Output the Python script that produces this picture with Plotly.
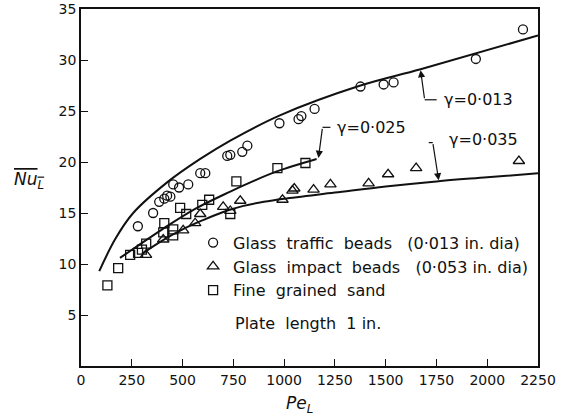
import plotly.graph_objects as go

# ---- data ----
traffic_pe = [280, 355, 385, 410, 424, 440, 454, 483, 528, 587, 612, 720, 735, 794, 819,
              977, 1071, 1085, 1150, 1376, 1490, 1539, 1944, 2176]
traffic_nu = [13.7, 15.0, 16.1, 16.4, 16.7, 16.6, 17.8, 17.5, 17.8, 18.9, 18.9, 20.6, 20.7,
              21.0, 21.6, 23.8, 24.2, 24.5, 25.2, 27.4, 27.6, 27.8, 30.1, 33.0]

impact_pe = [320, 405, 503, 562, 587, 700, 735, 784, 992, 1041, 1050, 1145, 1228, 1416,
             1512, 1650, 2156]
impact_nu = [10.9, 12.4, 13.3, 14.0, 14.9, 15.6, 15.2, 16.2, 16.3, 17.2, 17.4, 17.3, 17.8,
             17.9, 18.8, 19.4, 20.1]

sand_pe = [130, 183, 242, 281, 300, 321, 405, 410, 454, 454, 488, 518, 597, 631, 735, 765,
           967, 1105]
sand_nu = [7.9, 9.6, 10.9, 11.1, 11.4, 12.0, 13.1, 14.0, 13.4, 12.8, 15.5, 14.9, 15.8, 16.3,
           14.9, 18.1, 19.4, 19.9]

g013_pe = [90, 170, 257, 424, 587, 735, 982, 1376, 1672, 2250]
g013_nu = [9.3, 12.5, 15.0, 18.0, 20.3, 22.1, 24.6, 27.5, 29.1, 32.4]

g025_pe = [192, 281, 400, 562, 735, 834, 967, 1160]
g025_nu = [10.6, 11.8, 13.4, 15.4, 17.1, 18.0, 19.1, 20.3]

g035_pe = [300, 400, 500, 600, 700, 800, 900, 1000, 1250, 1500, 1750, 2000, 2250]
g035_nu = [11.0, 12.3, 13.4, 14.3, 15.1, 15.7, 16.1, 16.4, 17.0, 17.6, 18.1, 18.5, 18.9]

x_ticks = [0, 250, 500, 750, 1000, 1250, 1500, 1750, 2000, 2250]
y_ticks = [5, 10, 15, 20, 25, 30, 35]

legend_names = ["Glass  traffic  beads   (0·013 in. dia)",
                "Glass  impact  beads   (0·053 in. dia)",
                "Fine  grained  sand"]

# curve labels: text, text pos, arrow tip, elbow, leader end
curve_labels = [
    ("γ=0·013", (1775, 26.1), (1672, 29.0), (1692, 26.1), (1751, 26.1)),
    ("γ=0·025", (1250, 23.4), (1169, 20.4), (1189, 23.4), (1228, 23.4)),
    ("γ=0·035", (1800, 22.2), (1761, 18.2), (1732, 21.9), (1712, 21.9)),
]

FONT = "DejaVu Sans"
BLACK = "#111111"

fig = go.Figure()

for pe, nu in [(g013_pe, g013_nu), (g025_pe, g025_nu), (g035_pe, g035_nu)]:
    fig.add_trace(go.Scatter(x=pe, y=nu, mode="lines", showlegend=False,
                             line=dict(color=BLACK, width=2, shape="spline", smoothing=1.0),
                             hoverinfo="skip"))

for pe, nu, name, sym, size, grp in [
        (traffic_pe, traffic_nu, legend_names[0], "circle-open", 9, "a"),
        (impact_pe, impact_nu, legend_names[1], "triangle-up-open", 10, "b"),
        (sand_pe, sand_nu, legend_names[2], "square-open", 9, "c")]:
    fig.add_trace(go.Scatter(x=pe, y=nu, mode="markers", name=name, legendgroup=grp,
                             marker=dict(symbol=sym, size=size, color=BLACK,
                                         line=dict(color=BLACK, width=1.3))))

for text, tpos, tip, elbow, lend in curve_labels:
    fig.add_annotation(x=tpos[0], y=tpos[1], text=text, showarrow=False,
                       xanchor="left", yanchor="middle",
                       font=dict(family=FONT, size=16, color=BLACK))
    fig.add_annotation(x=tip[0], y=tip[1], ax=elbow[0], ay=elbow[1],
                       axref="x", ayref="y", xref="x", yref="y", text="",
                       showarrow=True, arrowhead=2, arrowsize=1.2, arrowwidth=1.2,
                       arrowcolor=BLACK)
    fig.add_shape(type="line", x0=elbow[0], y0=elbow[1], x1=lend[0], y1=lend[1],
                  line=dict(color=BLACK, width=1.2))

fig.add_annotation(x=0.333, y=0.12, xref="paper", yref="paper",
                   text="Plate  length  1 in.", showarrow=False, xanchor="left",
                   yanchor="middle", font=dict(family=FONT, size=16, color=BLACK))

fig.add_annotation(x=-0.15, y=0.52, xref="paper", yref="paper",
                   text='<span style="text-decoration:overline"><i>Nu</i><sub><i>L</i></sub></span>',
                   showarrow=False, font=dict(family=FONT, size=17, color=BLACK))
fig.add_annotation(x=0.478, y=-0.145, xref="paper", yref="paper",
                   text="<i>Pe</i><sub><i>L</i></sub>",
                   showarrow=False, font=dict(family=FONT, size=17, color=BLACK))

fig.update_layout(
    width=567, height=419,
    margin=dict(l=81, r=29, t=9, b=53, autoexpand=False),
    paper_bgcolor="white", plot_bgcolor="white",
    font=dict(family=FONT, size=14, color=BLACK),
    legend=dict(x=0.2453, y=0.393, xanchor="left", yanchor="top",
                bgcolor="rgba(0,0,0,0)", traceorder="grouped", tracegroupgap=0,
                font=dict(family=FONT, size=16, color=BLACK), itemsizing="trace"),
    xaxis=dict(range=[0, 2250], tickvals=x_ticks, ticks="inside", ticklen=7,
               tickcolor=BLACK, showline=True, linecolor=BLACK, linewidth=1.6,
               mirror=True, showgrid=False, zeroline=False, automargin=False,
               tickfont=dict(family=FONT, size=14, color=BLACK)),
    yaxis=dict(range=[0, 35], tickvals=y_ticks, ticks="inside", ticklen=7,
               tickcolor=BLACK, showline=True, linecolor=BLACK, linewidth=1.6,
               mirror=True, showgrid=False, zeroline=False, automargin=False,
               tickfont=dict(family=FONT, size=14, color=BLACK)),
)

fig.write_html("out.html")
